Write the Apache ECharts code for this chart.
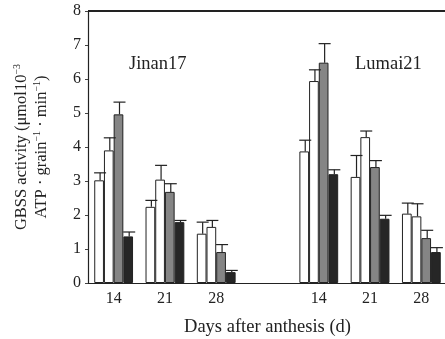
<!DOCTYPE html>
<html>
<head>
<meta charset="utf-8">
<script src="https://cdn.jsdelivr.net/npm/echarts@6/dist/echarts.min.js"></script>
<style>
  html, body { margin: 0; padding: 0; background: #fff; }
  #chart { width: 445px; height: 339px; }
</style>
</head>
<body>
<div id="chart"></div>
<script>
// days after anthesis; the blank slot separates the two cultivars
const categories = ['14', '21', '28', '', '14', '21', '28'];
const cultivars = ['Jinan17', 'Lumai21'];

// GBSS activity, four treatments per day
const treat1 = [3.02, 2.24, 1.45, null, 3.87, 3.12, 2.04];
const treat2 = [3.90, 3.04, 1.65, null, 5.94, 4.29, 1.96];
const treat3 = [4.96, 2.68, 0.91, null, 6.48, 3.41, 1.32];
const treat4 = [1.37, 1.79, 0.32, null, 3.20, 1.89, 0.91];

// upper error (SD)
const err1 = [0.22, 0.19, 0.34, null, 0.33, 0.63, 0.31];
const err2 = [0.37, 0.42, 0.19, null, 0.33, 0.18, 0.37];
const err3 = [0.36, 0.24, 0.22, null, 0.56, 0.19, 0.23];
const err4 = [0.13, 0.05, 0.05, null, 0.13, 0.10, 0.13];

const yTicks = [0, 1, 2, 3, 4, 5, 6, 7, 8];

const FONT = 'Liberation Serif';
const BAR_W = 9.7;
const fills = ['#ffffff', '#ffffff', '#858585', '#262626'];
const values = [treat1, treat2, treat3, treat4];
const errors = [err1, err2, err3, err4];

const chart = echarts.init(document.getElementById('chart'));

function errorSeries(k) {
    const data = [];
    values[k].forEach((v, i) => {
        if (v != null) data.push([i, v, v + errors[k][i]]);
    });
    return {
        type: 'custom',
        z: 5,
        data: data,
        renderItem: (params, api) => {
            const lo = api.coord([api.value(0), api.value(1)]);
            const hi = api.coord([api.value(0), api.value(2)]);
            const x = lo[0] + (k - 1.5) * BAR_W + 1;
            const cap = 6;
            const style = { stroke: '#222', lineWidth: 1.2 };
            return {
                type: 'group',
                children: [
                    { type: 'line', shape: { x1: x, y1: lo[1], x2: x, y2: hi[1] }, style: style },
                    { type: 'line', shape: { x1: x - cap, y1: hi[1], x2: x + cap, y2: hi[1] }, style: style }
                ]
            };
        }
    };
}

// only the top split line (the frame of the plot box) is drawn
const splitColors = yTicks.map((t, i) => (i === yTicks.length - 1 ? '#222' : 'rgba(0,0,0,0)'));

const option = {
    animation: false,
    textStyle: { fontFamily: FONT },
    grid: {
        left: 88, top: 11, width: 359, height: 272,
        outerBoundsMode: 'none',
        containLabel: false
    },
    xAxis: {
        type: 'category',
        data: categories,
        axisTick: { show: false },
        axisLine: { lineStyle: { color: '#222', width: 1.2 } },
        axisLabel: { color: '#222', fontSize: 16, fontFamily: FONT, margin: 8 },
        name: 'Days after anthesis (d)',
        nameLocation: 'middle',
        nameGap: 35,
        nameTextStyle: { color: '#222', fontSize: 18.5, fontFamily: FONT }
    },
    yAxis: {
        type: 'value',
        min: yTicks[0],
        max: yTicks[yTicks.length - 1],
        interval: 1,
        splitLine: {
            show: true,
            showMinLine: true,
            showMaxLine: true,
            lineStyle: { color: splitColors, width: 2 }
        },
        axisLine: { show: true, lineStyle: { color: '#222', width: 1.2 } },
        axisTick: { show: true, length: 3, lineStyle: { color: '#444' } },
        axisLabel: { color: '#222', fontSize: 16, fontFamily: FONT, margin: 7 },
        name: '{a|GBSS activity (μmol10}{s|−3}\n{a|ATP · grain}{s|−1}{a| · min}{s|−1}{a|)}',
        nameLocation: 'middle',
        nameGap: 36,
        nameRotate: 90,
        nameTextStyle: {
            color: '#222',
            fontFamily: FONT,
            rich: {
                a: { fontSize: 16.5, fontFamily: FONT, color: '#222', lineHeight: 20 },
                s: { fontSize: 10, fontFamily: FONT, color: '#222', verticalAlign: 'top', lineHeight: 20 }
            }
        }
    },
    graphic: [
        { type: 'text', left: 129, top: 55, style: { text: cultivars[0], font: '18.5px "Liberation Serif"', fill: '#222' } },
        { type: 'text', left: 355, top: 55, style: { text: cultivars[1], font: '18.5px "Liberation Serif"', fill: '#222' } }
    ],
    series: values.map((vals, k) => ({
        type: 'bar',
        data: vals,
        barWidth: BAR_W,
        barGap: '0%',
        itemStyle: { color: fills[k], borderColor: '#222', borderWidth: 1 }
    })).concat([0, 1, 2, 3].map(errorSeries))
};

chart.setOption(option);
</script>
</body>
</html>
